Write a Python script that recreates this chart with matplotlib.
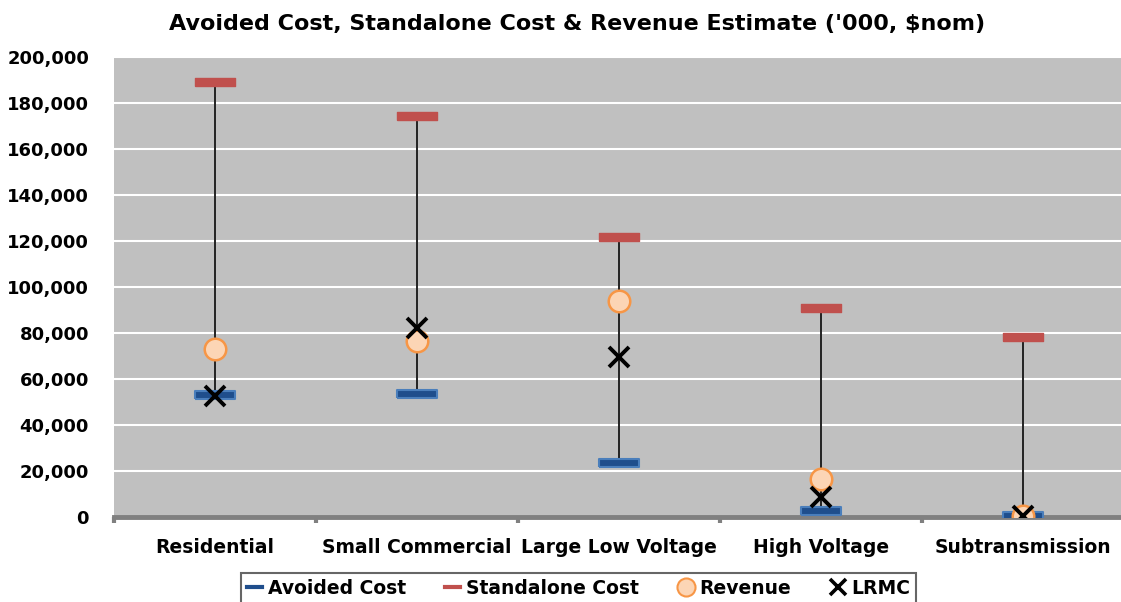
import matplotlib
matplotlib.use("Agg")
import matplotlib.pyplot as plt
from matplotlib.lines import Line2D
from matplotlib.ticker import FuncFormatter, MultipleLocator

categories = ["Residential", "Small Commercial", "Large Low Voltage", "High Voltage", "Subtransmission"]
avoided_cost = [53000, 53500, 23500, 2600, 400]
standalone_cost = [189000, 174300, 121700, 90900, 78300]
revenue = [73000, 76500, 94000, 16500, 300]
lrmc = [52600, 82200, 69600, 8700, 500]

W, H = 1121, 602
fig = plt.figure(figsize=(W / 100, H / 100), dpi=100)
plt.rcParams['font.family'] = ['DejaVu Sans']

left, right, top, bottom = 114, 1124, 57, 517
ax = fig.add_axes([left / W, 1 - bottom / H, (right - left) / W, (bottom - top) / H])
ax.set_facecolor('#c0c0c0')
x = list(range(len(categories)))

ax.vlines(x, avoided_cost, standalone_cost, color='#222222', lw=1.4, zorder=3)

bar = [(-1, -0.2), (1, -0.2), (1, 0.2), (-1, 0.2), (-1, -0.2)]
ax.plot(x, avoided_cost, ls='none', marker=bar, ms=29, mfc='#1f4e8c', mec='#4a7ebb', mew=1.5, zorder=4)
ax.plot(x, standalone_cost, ls='none', marker=bar, ms=29, mfc='#c0504d', mec='#c0504d', mew=1, zorder=4)
ax.plot(x, revenue, ls='none', marker='o', ms=15.5, mfc='#fcd5b5', mec='#f79646', mew=1.8, zorder=5)
ax.plot(x, lrmc, ls='none', marker='x', ms=14.5, mec='black', mew=2.8, zorder=6)

ax.set_ylim(0, 200000)
ax.set_xlim(-0.5, len(categories) - 0.5)
ax.yaxis.set_major_locator(MultipleLocator(20000))
ax.yaxis.set_major_formatter(FuncFormatter(lambda v, p: f"{int(v):,}"))
ax.grid(axis='y', color='white', lw=1.5, zorder=0)
ax.set_axisbelow(True)
for s in ['top', 'right', 'left']:
    ax.spines[s].set_visible(False)
ax.spines['bottom'].set_color('#808080')
ax.spines['bottom'].set_linewidth(3.5)
ax.spines['bottom'].set_zorder(2)

ax.set_xticks([i - 0.5 for i in range(len(categories) + 1)])
ax.set_xticklabels([])
ax.set_xticks(x, minor=True)
ax.set_xticklabels(categories, minor=True, fontsize=13.5, fontweight='bold')
ax.tick_params(axis='x', which='major', length=4, width=3, color='#808080', direction='out')
ax.tick_params(axis='x', which='minor', length=0, pad=15)
ax.tick_params(axis='y', length=0, pad=18, labelsize=13)
for t in ax.get_yticklabels():
    t.set_fontweight('bold')

fig.text(577 / W, 1 - 24 / H, "Avoided Cost, Standalone Cost & Revenue Estimate ('000, $nom)",
         ha='center', va='center', fontsize=16, fontweight='bold')

handles = [
    Line2D([], [], color='#1f4e8c', lw=3, ls='-'),
    Line2D([], [], color='#c0504d', lw=3, ls='-'),
    Line2D([], [], ls='none', marker='o', ms=13, mfc='#fcd5b5', mec='#f79646', mew=1.5),
    Line2D([], [], ls='none', marker='x', ms=12, mec='black', mew=2.6),
]
labels = ["Avoided Cost", "Standalone Cost", "Revenue", "LRMC"]
leg = fig.legend(handles, labels, loc='upper left', bbox_to_anchor=(232 / W, 1 - 564 / H, 693 / W, 0),
                 mode='expand', ncol=4, frameon=True, fancybox=False, edgecolor='#404040',
                 prop={'weight': 'bold', 'size': 13.5}, handlelength=0.8, handletextpad=0.3,
                 columnspacing=1.6, borderpad=0.3)
leg.get_frame().set_linewidth(1.5)

fig.savefig('out.png', dpi=100)
